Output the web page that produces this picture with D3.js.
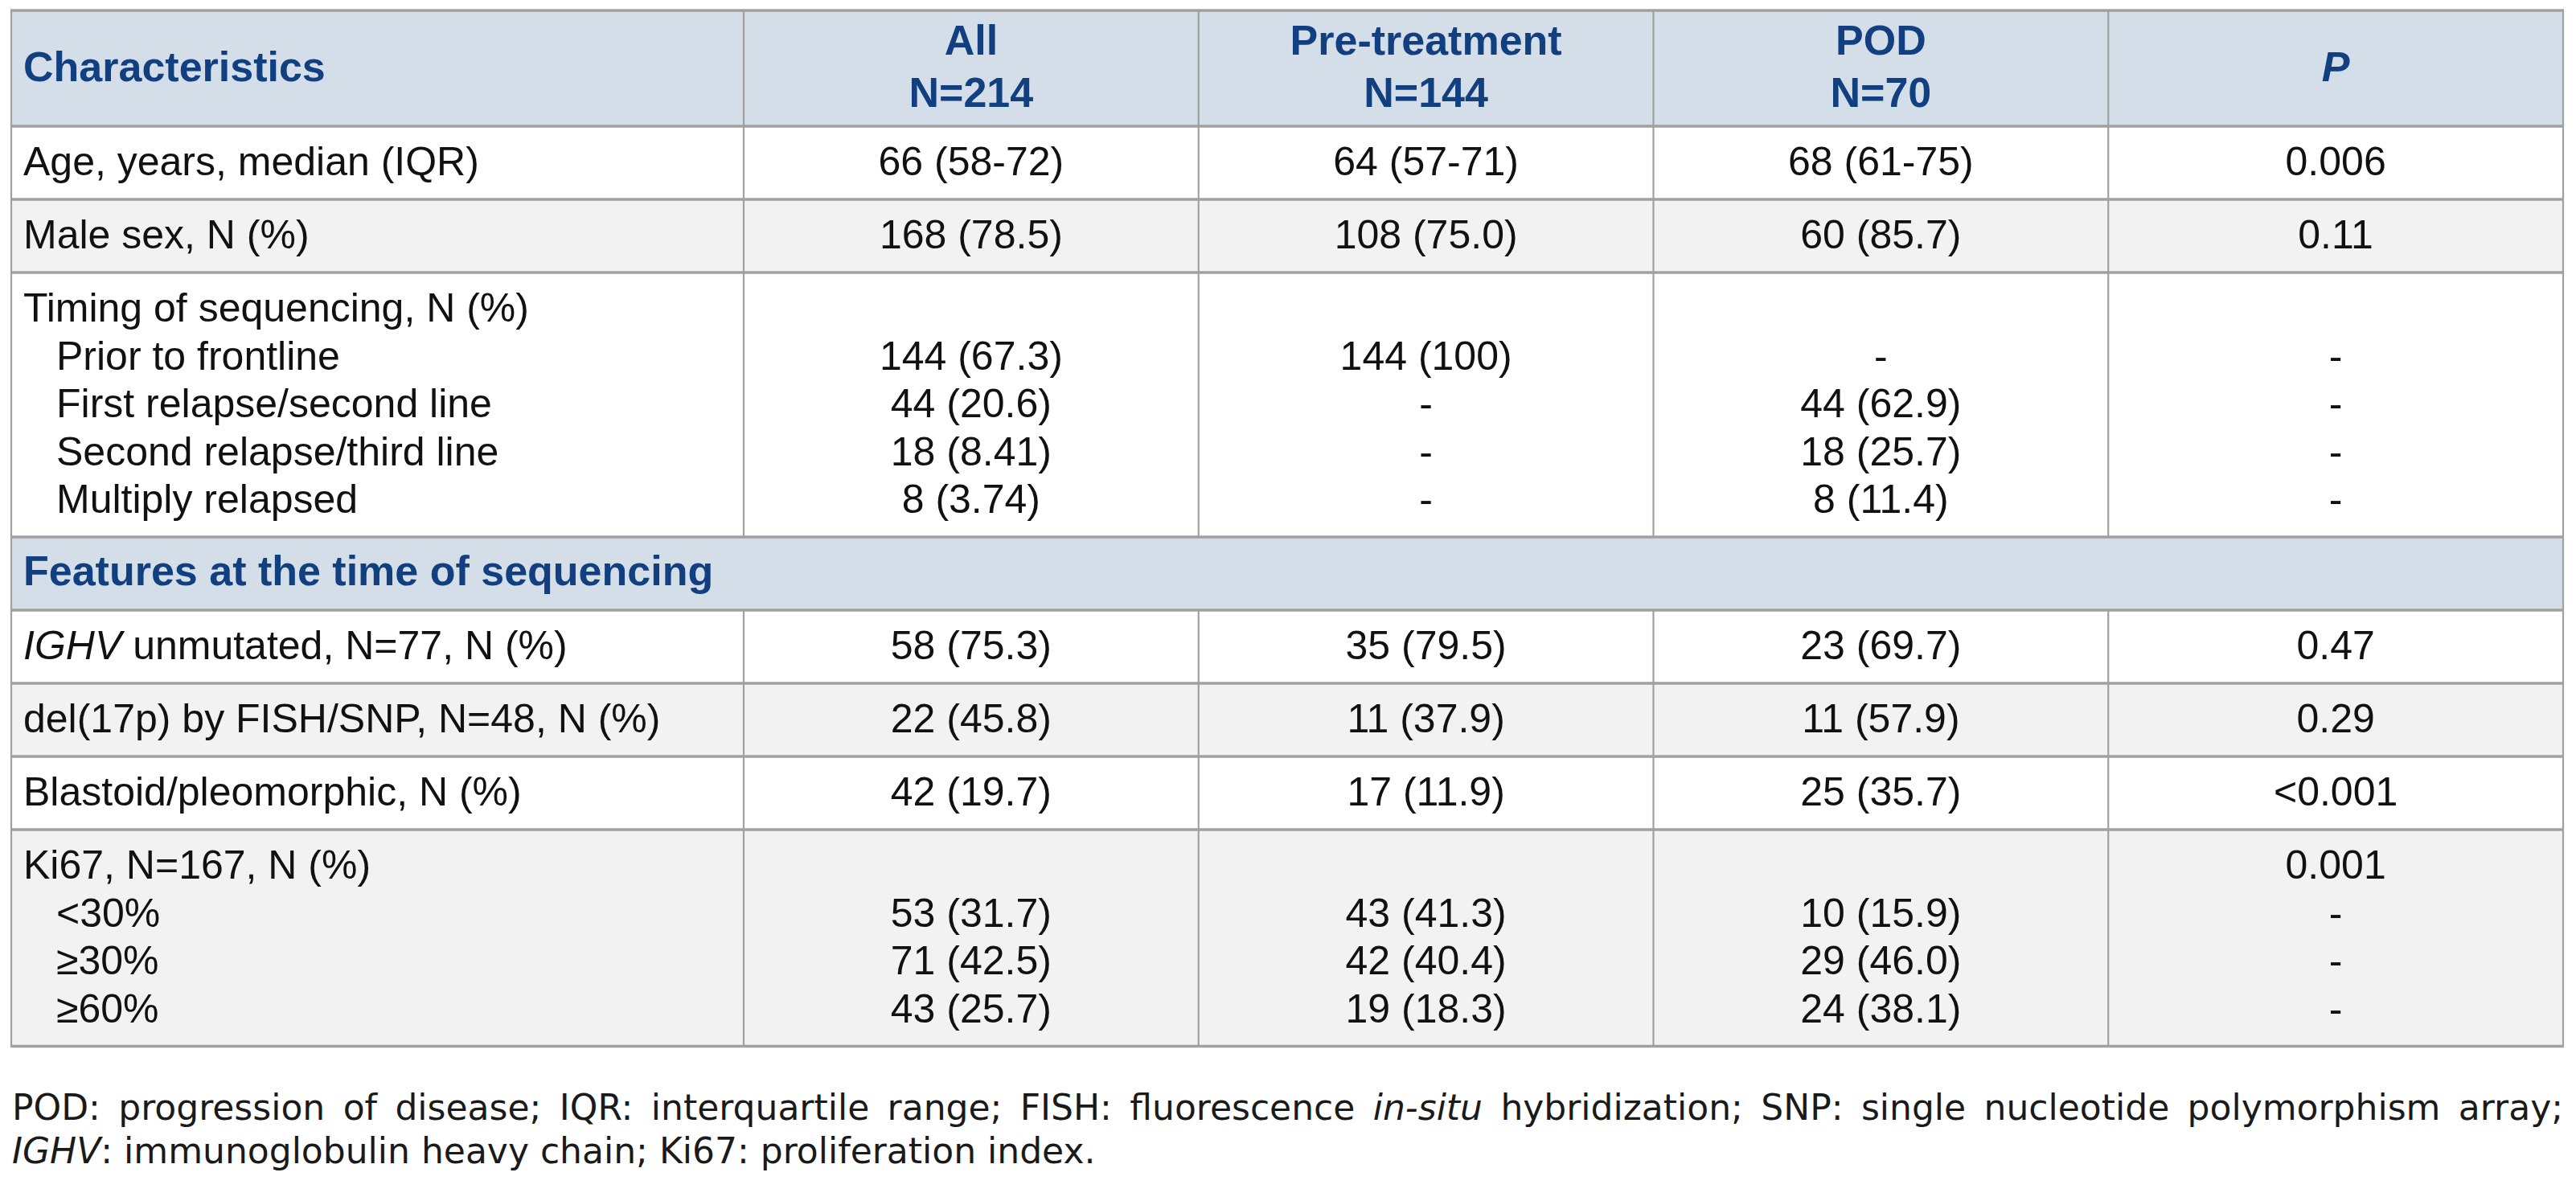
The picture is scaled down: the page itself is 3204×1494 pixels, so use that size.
<!DOCTYPE html>
<html>
<head>
<meta charset="utf-8">
<script src="https://cdn.jsdelivr.net/npm/d3@7"></script>
<style>
  body { margin: 0; background: #fff; }
  svg { display: block; }
</style>
</head>
<body>
<div id="table"></div>
<script>
// column headers
const columns = ["All", "Pre-treatment", "POD", "P"]
const columnN = ["N=214", "N=144", "N=70", ""]

// row labels, *...* marks italic text
const labels = [
    "Age, years, median (IQR)",
    "Male sex, N (%)",
    "Timing of sequencing, N (%)",
    "Prior to frontline",
    "First relapse/second line",
    "Second relapse/third line",
    "Multiply relapsed",
    "Features at the time of sequencing",
    "*IGHV* unmutated, N=77, N (%)",
    "del(17p) by FISH/SNP, N=48, N (%)",
    "Blastoid/pleomorphic, N (%)",
    "Ki67, N=167, N (%)",
    "<30%",
    "≥30%",
    "≥60%"
]
// row = own bordered row, sub = continues the row above, section = band title
const kinds = ["row", "row", "row", "sub", "sub", "sub", "sub", "section",
    "row", "row", "row", "row", "sub", "sub", "sub"]

const allValues = ["66 (58-72)", "168 (78.5)", "", "144 (67.3)", "44 (20.6)", "18 (8.41)", "8 (3.74)", "",
    "58 (75.3)", "22 (45.8)", "42 (19.7)", "", "53 (31.7)", "71 (42.5)", "43 (25.7)"]
const preValues = ["64 (57-71)", "108 (75.0)", "", "144 (100)", "-", "-", "-", "",
    "35 (79.5)", "11 (37.9)", "17 (11.9)", "", "43 (41.3)", "42 (40.4)", "19 (18.3)"]
const podValues = ["68 (61-75)", "60 (85.7)", "", "-", "44 (62.9)", "18 (25.7)", "8 (11.4)", "",
    "23 (69.7)", "11 (57.9)", "25 (35.7)", "", "10 (15.9)", "29 (46.0)", "24 (38.1)"]
const pValues = ["0.006", "0.11", "", "-", "-", "-", "-", "",
    "0.47", "0.29", "<0.001", "0.001", "-", "-", "-"]

const footnote = [
    "POD: progression of disease; IQR: interquartile range; FISH: fluorescence *in-situ* hybridization; SNP: single nucleotide polymorphism array;",
    "*IGHV*: immunoglobulin heavy chain; Ki67: proliferation index."
]

const width = 3204
const height = 1494
const tLeft = 14, tRight = 3188, tTop = 13
const labelRight = 925
const headerHeight = 144
const lineHeight = 59.5
const rowHeight = 91

const font = "'Liberation Sans', Arial, Helvetica, sans-serif"
const blue = "#113f80"
const headBg = "#d4dee8"
const grayBg = "#f2f2f2"
const lineColor = "#a0a0a0"

const values = [allValues, preValues, podValues, pValues]

const x = d3.scaleBand()
    .domain(columns)
    .range([labelRight, tRight])

// group lines into bordered blocks
const blocks = []
labels.forEach((label, i) => {
    if (kinds[i] === "sub") {
        blocks[blocks.length - 1].lines.push(i)
    } else {
        blocks.push({ kind: kinds[i], lines: [i] })
    }
})
let yPos = tTop + headerHeight
let stripe = 0
blocks.forEach(b => {
    b.y0 = yPos
    b.h = rowHeight + (b.lines.length - 1) * lineHeight
    yPos += b.h
    if (b.kind === "section") {
        b.fill = headBg
        stripe = 0
    } else {
        b.fill = stripe % 2 === 0 ? "#ffffff" : grayBg
        stripe++
    }
})
const tableBottom = yPos

// writes a string with *italic* pieces as tspans
const richText = (sel, str) => {
    str.split("*").forEach((part, i) => {
        if (part === "") return
        sel.append("tspan")
            .attr("font-style", i % 2 === 1 ? "italic" : null)
            .text(part)
    })
}

const svg = d3.select("#table")
    .append("svg")
    .attr("width", width)
    .attr("height", height)
    .attr("font-family", font)

// header band
svg.append("rect")
    .attr("x", tLeft).attr("y", tTop)
    .attr("width", tRight - tLeft).attr("height", headerHeight)
    .attr("fill", headBg)

svg.selectAll("rect.block")
    .data(blocks)
    .join("rect")
    .attr("class", "block")
    .attr("x", tLeft)
    .attr("y", d => d.y0)
    .attr("width", tRight - tLeft)
    .attr("height", d => d.h)
    .attr("fill", d => d.fill)

// vertical dividers
const vLines = svg.append("g")
    .attr("stroke", lineColor)
    .attr("stroke-width", 2.2)
const dividers = columns.map(c => x(c))
dividers.forEach(xv => {
    vLines.append("line")
        .attr("x1", xv).attr("x2", xv)
        .attr("y1", tTop).attr("y2", tTop + headerHeight)
    blocks.filter(b => b.kind !== "section").forEach(b => {
        vLines.append("line")
            .attr("x1", xv).attr("x2", xv)
            .attr("y1", b.y0).attr("y2", b.y0 + b.h)
    })
})
vLines.append("line")
    .attr("x1", tLeft).attr("x2", tLeft)
    .attr("y1", tTop).attr("y2", tableBottom)
vLines.append("line")
    .attr("x1", tRight).attr("x2", tRight)
    .attr("y1", tTop).attr("y2", tableBottom)

// horizontal rules
const hLines = svg.append("g")
    .attr("stroke", lineColor)
    .attr("stroke-width", 3.4)
const rules = [tTop].concat(blocks.map(b => b.y0), [tableBottom])
rules.forEach(yv => {
    hLines.append("line")
        .attr("x1", tLeft - 1).attr("x2", tRight + 1)
        .attr("y1", yv).attr("y2", yv)
})

// header text
const head = svg.append("g")
    .attr("fill", blue)
    .attr("font-weight", "bold")
    .attr("font-size", 52)
head.append("text")
    .attr("x", 29).attr("y", 101)
    .text("Characteristics")
columns.forEach((c, i) => {
    const cx = x(c) + x.bandwidth() / 2
    if (columnN[i] === "") {
        head.append("text")
            .attr("x", cx).attr("y", 101)
            .attr("text-anchor", "middle")
            .attr("font-style", "italic")
            .text(c)
    } else {
        head.append("text")
            .attr("x", cx).attr("y", 68)
            .attr("text-anchor", "middle")
            .text(c)
        head.append("text")
            .attr("x", cx).attr("y", 133)
            .attr("text-anchor", "middle")
            .text(columnN[i])
    }
})

// body text
const body = svg.append("g")
    .attr("font-size", 50)
    .attr("fill", "#111")
blocks.forEach(b => {
    b.lines.forEach((li, k) => {
        const base = b.y0 + (b.kind === "section" ? 60 : 61) + k * lineHeight
        const t = body.append("text")
            .attr("x", kinds[li] === "sub" ? 70 : 29)
            .attr("y", base)
        if (b.kind === "section") {
            t.attr("fill", blue)
                .attr("font-weight", "bold")
                .attr("font-size", 52)
        }
        richText(t, labels[li])
        values.forEach((vals, ci) => {
            if (vals[li] === "") return
            body.append("text")
                .attr("x", x(columns[ci]) + x.bandwidth() / 2)
                .attr("y", base)
                .attr("text-anchor", "middle")
                .text(vals[li])
        })
    })
})

// footnote, first line justified to the table width
const note = svg.append("g")
    .attr("font-family", "'DejaVu Sans', 'Open Sans', sans-serif")
    .attr("font-size", 44)
    .attr("fill", "#1a1a1a")
footnote.forEach((line, i) => {
    const t = note.append("text")
        .attr("x", tLeft + 1)
        .attr("y", 1393 + i * 54)
    richText(t, line)
    if (i === 0) {
        const w = t.node().getComputedTextLength()
        const spaces = line.split(" ").length - 1
        t.attr("word-spacing", (tRight - tLeft - 1 - w) / spaces)
    }
})
</script>
</body>
</html>
